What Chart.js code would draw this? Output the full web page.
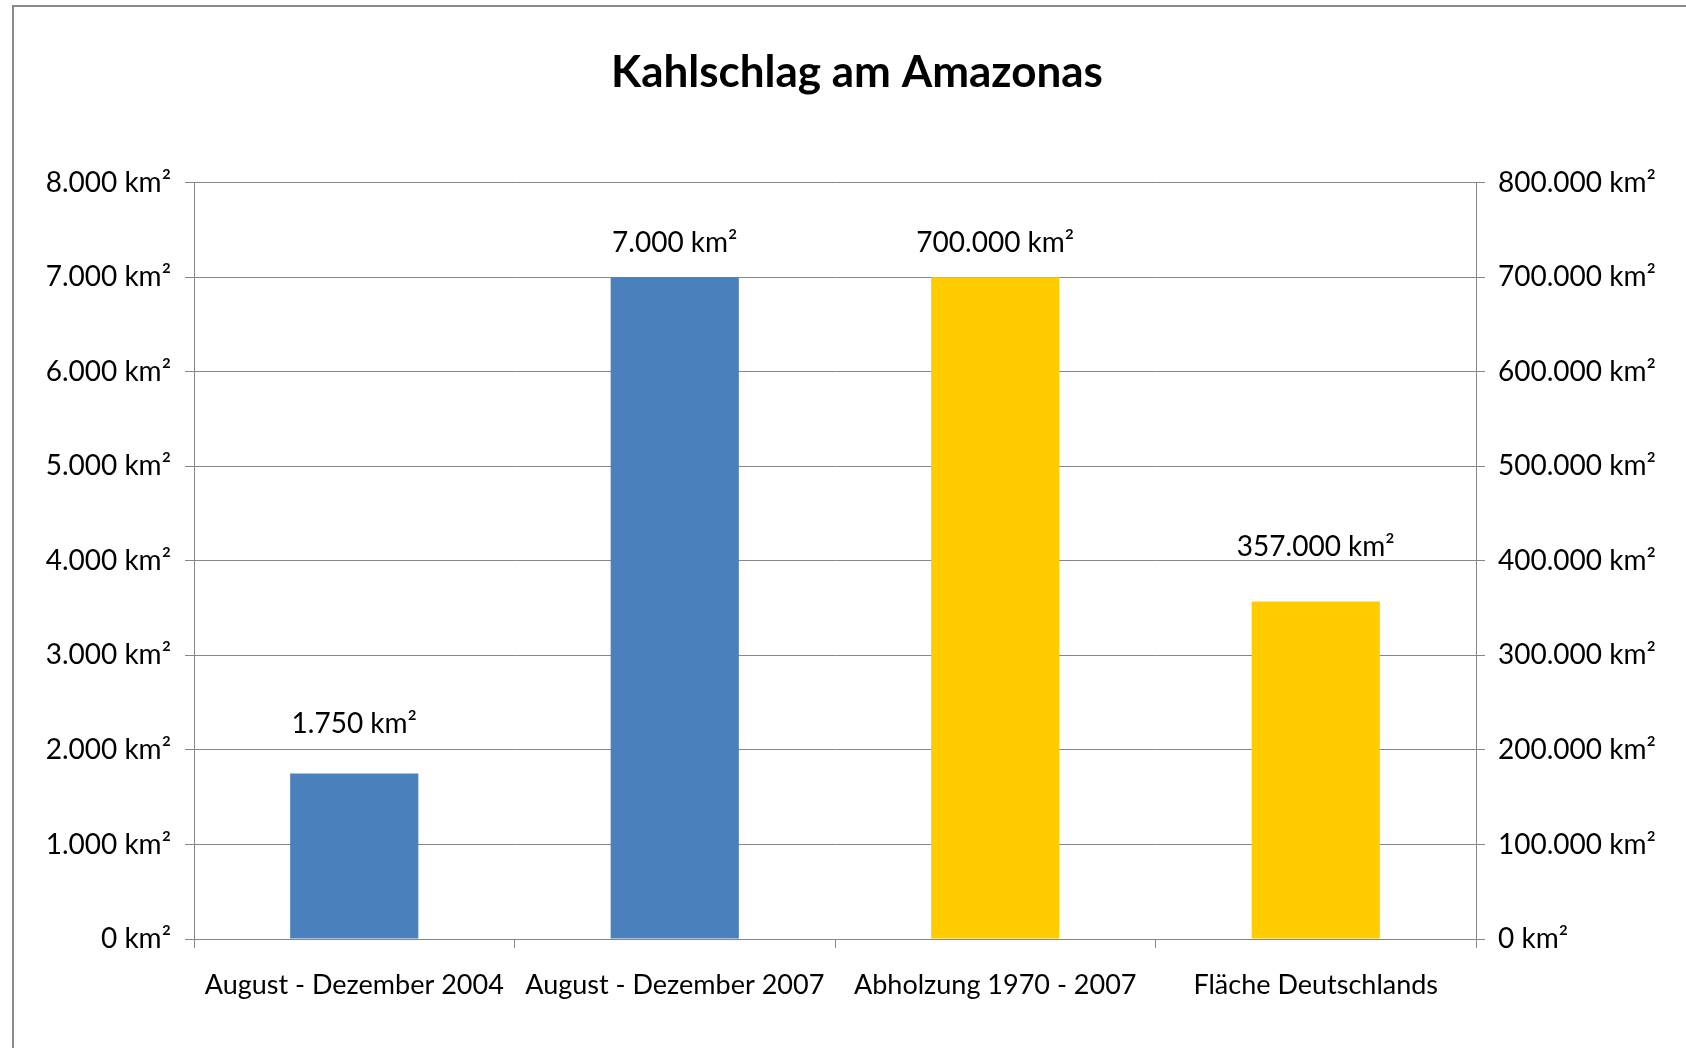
<!DOCTYPE html>
<html>
<head>
<meta charset="utf-8">
<script src="https://cdn.jsdelivr.net/npm/chart.js@4"></script>
<style>
  body { margin: 0; background: #fff; }
  #wrap { position: relative; width: 1686px; height: 1048px; }
  #frame { position: absolute; left: 12px; top: 5px; right: -4px; bottom: -4px;
           border-top: 2px solid #8a8a8a; border-left: 2px solid #8a8a8a; pointer-events: none; }
</style>
</head>
<body>
<div id="wrap">
  <canvas id="chart" width="1686" height="1048"></canvas>
  <div id="frame"></div>
</div>
<script>
const categories = ["August - Dezember 2004", "August - Dezember 2007", "Abholzung 1970 - 2007", "Fläche Deutschlands"];
const leftValues = [1750, 7000, null, null];        // km², linke Achse
const rightValues = [null, null, 700000, 357000];   // km², rechte Achse
const leftTicks = { max: 8000, step: 1000 };
const rightTicks = { max: 800000, step: 100000 };
const labelOffsets = [50, 34, 34, 55];

const font = "Lato";
const fmt = v => v.toLocaleString("de-DE") + " km²";

const valueLabels = {
  id: "valueLabels",
  afterDatasetsDraw(chart) {
    const ctx = chart.ctx;
    ctx.save();
    ctx.font = "28px " + font;
    ctx.fillStyle = "#000";
    ctx.textAlign = "center";
    ctx.textBaseline = "middle";
    chart.data.datasets.forEach((ds, di) => {
      chart.getDatasetMeta(di).data.forEach((bar, i) => {
        if (ds.data[i] == null) return;
        ctx.fillText(fmt(ds.data[i]), bar.x, bar.y - labelOffsets[i]);
      });
    });
    ctx.restore();
  }
};

const gridColor = "#868686";

new Chart(document.getElementById("chart"), {
  type: "bar",
  data: {
    labels: categories,
    datasets: [
      { data: leftValues, yAxisID: "y", backgroundColor: "#4A81BD" },
      { data: rightValues, yAxisID: "y1", backgroundColor: "#FFCC00" }
    ]
  },
  options: {
    responsive: false,
    animation: false,
    grouped: false,
    skipNull: true,
    categoryPercentage: 1,
    barPercentage: 0.4,
    layout: { padding: { left: 28, right: 0, top: 0, bottom: 0 } },
    plugins: {
      legend: { display: false },
      tooltip: { enabled: false },
      title: {
        display: true,
        text: "Kahlschlag am Amazonas",
        color: "#000",
        font: { family: font, size: 44, weight: "bold", lineHeight: 1.2 },
        padding: { top: 46, bottom: 84 }
      }
    },
    scales: {
      x: {
        afterFit: s => { s.height = 109; },
        grid: { offset: true, drawOnChartArea: false, tickLength: 9, color: gridColor },
        border: { color: gridColor },
        ticks: { color: "#000", font: { family: font, size: 27 }, padding: 21, maxRotation: 0 }
      },
      y: {
        position: "left",
        min: 0, max: leftTicks.max,
        afterFit: s => { s.width = 166; },
        grid: { color: gridColor, tickLength: 9 },
        border: { color: gridColor },
        ticks: { stepSize: leftTicks.step, color: "#000", font: { family: font, size: 28 }, padding: 14, callback: fmt }
      },
      y1: {
        position: "right",
        min: 0, max: rightTicks.max,
        afterFit: s => { s.width = 210; },
        grid: { drawOnChartArea: false, color: gridColor, tickLength: 9 },
        border: { color: gridColor },
        ticks: { stepSize: rightTicks.step, color: "#000", font: { family: font, size: 28 }, padding: 13, callback: fmt }
      }
    }
  },
  plugins: [valueLabels]
});
</script>
</body>
</html>
